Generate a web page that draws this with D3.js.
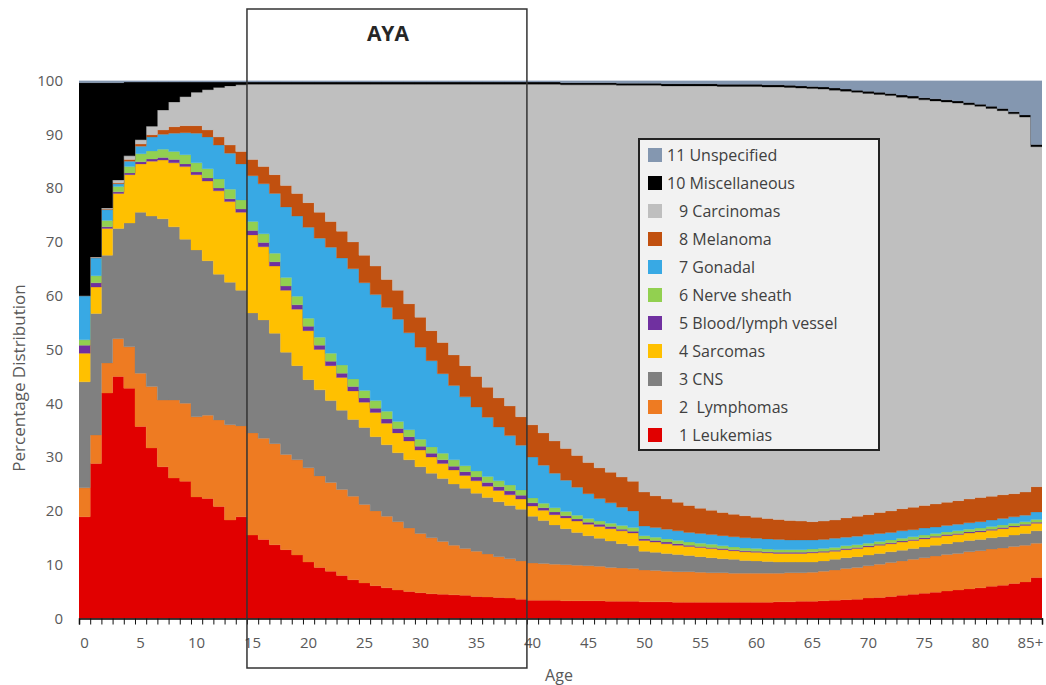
<!DOCTYPE html>
<html>
<head>
<meta charset="utf-8">
<script src="https://cdn.jsdelivr.net/npm/d3@7"></script>
<style>
  body { margin: 0; background: #fff; }
  text { font-family: 'Open Sans', sans-serif; }
</style>
</head>
<body>
<svg width="1046" height="685"></svg>
<script>
// ages 0..84 and the open "85+" group
const ages = d3.range(0, 86)
const tickAges = [0, 5, 10, 15, 20, 25, 30, 35, 40, 45, 50, 55, 60, 65, 70, 75, 80, 85]
const tickLabels = ['0', '5', '10', '15', '20', '25', '30', '35', '40', '45', '50', '55', '60', '65', '70', '75', '80', '85+']
const yTicks = [0, 10, 20, 30, 40, 50, 60, 70, 80, 90, 100]

// percentage of all cancers per age, one array per group
const leukemias = [18.9, 28.8, 41.9, 45, 42.8, 35.7, 31.7, 28.2, 26.1, 25.5, 22.6, 22.3, 20.8, 18.3, 18.9,
  15.5, 14.7, 13.7, 12.8, 11.8, 10.5, 9.5, 8.8, 8, 7.2, 6.6, 6.1, 5.7, 5.3, 5, 4.8, 4.6, 4.5, 4.4, 4.3, 4.1, 4, 3.9, 3.8, 3.6,
  3.4, 3.4, 3.4, 3.3, 3.3, 3.3, 3.3, 3.2, 3.2, 3.2, 3.1, 3.1, 3.1, 3, 3, 3, 3, 3, 3, 3, 3, 3, 3.1, 3.1, 3.2, 3.2, 3.3, 3.4, 3.5, 3.6,
  3.8, 3.9, 4.1, 4.3, 4.5, 4.7, 4.9, 5.1, 5.3, 5.5, 5.7, 6, 6.2, 6.5, 6.8, 7.6]
const lymphomas = [5.4, 5.3, 5.6, 7, 7.7, 9.9, 11.4, 12.4, 14.5, 14.5, 14.9, 15.5, 16.1, 17.7, 16.9,
  19, 18.8, 18.8, 17.7, 17.7, 17.5, 17, 16.5, 16, 15.5, 14.6, 13.9, 13.3, 12.7, 11.8, 11, 10.4, 9.8, 9.2, 8.7, 8.4, 8, 7.6, 7.3, 7.1,
  6.9, 6.8, 6.7, 6.7, 6.6, 6.5, 6.4, 6.3, 6.2, 6.1, 5.9, 5.8, 5.7, 5.7, 5.7, 5.6, 5.5, 5.5, 5.4, 5.4, 5.4, 5.4, 5.3, 5.4, 5.3, 5.4,
  5.5, 5.6, 5.8, 5.9, 6, 6.2, 6.3, 6.4, 6.5, 6.6, 6.7, 6.8, 6.8, 6.9, 6.9, 6.9, 6.9, 6.9, 6.8, 6.4]
const cns = [19.7, 22.6, 20, 20.5, 23, 29.9, 31.7, 33.7, 32.2, 30.5, 31, 28.7, 27.1, 26.5, 25.2,
  22.3, 22, 20.5, 19, 17.5, 16.4, 16, 15.2, 14.7, 14.3, 14.3, 13.8, 13.3, 12.8, 12.7, 12.4, 12, 11.7, 11.4, 11.2, 10.8, 10.5, 10.2, 9.9, 9.6,
  8.7, 8, 7.3, 6.7, 6.1, 5.6, 5.2, 4.9, 4.5, 4.2, 3.5, 3.4, 3.3, 3.2, 3, 2.9, 2.8, 2.6, 2.6, 2.4, 2.3, 2.2, 2.1, 2, 2, 1.9,
  1.9, 2, 2, 2, 2, 2, 2, 2, 2, 2, 2, 2, 2.1, 2.1, 2.1, 2.1, 2.1, 2.1, 2.2, 2.3]
const sarcomas = [5.3, 4.9, 5, 6.5, 9, 9, 10.2, 10.9, 11.9, 13.5, 14, 14.8, 15.5, 15, 14.5,
  14.5, 13.6, 12.5, 11.5, 10.5, 9.1, 7.5, 6.5, 6.1, 5.3, 4.7, 4.5, 4, 3.7, 3.5, 3.1, 3, 2.8, 2.6, 2.4, 2.3, 2.1, 2.1, 2, 1.9,
  1.9, 1.9, 1.9, 2, 2.1, 2.1, 2.2, 2.3, 2.4, 2.4, 2, 1.9, 1.8, 1.7, 1.7, 1.7, 1.7, 1.7, 1.6, 1.6, 1.6, 1.6, 1.6, 1.6, 1.6, 1.7,
  1.6, 1.5, 1.5, 1.5, 1.5, 1.5, 1.5, 1.5, 1.5, 1.5, 1.5, 1.5, 1.4, 1.4, 1.4, 1.4, 1.5, 1.5, 1.5, 1.4]
const bloodVessel = [1.5, 0.8, 0.3, 0.3, 0.3, 0.4, 0.4, 0.5, 0.6, 0.5, 0.5, 0.6, 0.5, 0.5, 0.6,
  0.8, 0.8, 0.8, 0.8, 0.8, 0.8, 0.8, 0.8, 0.8, 0.8, 0.8, 0.8, 0.8, 0.8, 0.8, 0.7, 0.7, 0.7, 0.7, 0.7, 0.7, 0.7, 0.7, 0.7, 0.7,
  0.6, 0.5, 0.5, 0.4, 0.4, 0.4, 0.4, 0.4, 0.3, 0.3, 0.3, 0.3, 0.3, 0.3, 0.2, 0.2, 0.2, 0.2, 0.2, 0.2, 0.2, 0.2, 0.2, 0.2, 0.2, 0.2,
  0.2, 0.2, 0.2, 0.2, 0.2, 0.2, 0.2, 0.2, 0.2, 0.2, 0.2, 0.2, 0.2, 0.2, 0.2, 0.2, 0.2, 0.2, 0.2, 0.2]
const nerveSheath = [1, 1.3, 1.2, 1, 1.2, 1.5, 1.5, 1.5, 1.5, 1.7, 1.7, 1.7, 1.7, 1.8, 1.7,
  1.7, 1.6, 1.6, 1.6, 1.6, 1.5, 1.5, 1.5, 1.5, 1.4, 1.4, 1.4, 1.4, 1.3, 1.3, 1.3, 1.2, 1.2, 1.2, 1.1, 1.1, 1.1, 1.1, 1.1, 1,
  0.9, 0.8, 0.8, 0.8, 0.7, 0.7, 0.6, 0.6, 0.7, 0.7, 0.6, 0.6, 0.6, 0.6, 0.6, 0.6, 0.6, 0.5, 0.5, 0.5, 0.5, 0.5, 0.5, 0.5, 0.5, 0.5,
  0.5, 0.5, 0.5, 0.5, 0.5, 0.5, 0.5, 0.5, 0.5, 0.5, 0.5, 0.5, 0.5, 0.5, 0.5, 0.5, 0.5, 0.5, 0.5, 0.5]
const gonadal = [8.2, 3.3, 2, 0.5, 1, 1.4, 2.6, 2.8, 3.4, 4.1, 5.5, 5.9, 6.3, 6.7, 6.7,
  8.5, 9.3, 11.1, 13.1, 14.9, 16.9, 18.4, 19.7, 19.9, 20.5, 20, 19.7, 19.3, 19, 18, 17.1, 16, 14.8, 13.8, 12.8, 11.9, 11, 10, 9.2, 8.3,
  7.6, 7.1, 6.4, 5.8, 5.2, 4.6, 4.2, 3.8, 3.4, 3.1, 1.8, 1.8, 1.8, 1.8, 1.8, 1.8, 1.8, 1.9, 1.9, 1.9, 1.9, 1.9, 1.9, 1.8, 1.8, 1.7,
  1.7, 1.7, 1.6, 1.6, 1.6, 1.5, 1.4, 1.4, 1.3, 1.3, 1.2, 1.2, 1.2, 1.2, 1.2, 1.2, 1.2, 1.2, 1.2, 1.4]
const melanoma = [0, 0.1, 0.1, 0.2, 0.3, 0.4, 0.4, 0.8, 1.2, 1.3, 1.4, 1.3, 1.5, 1.5, 2.3,
  3, 3.2, 3.5, 4, 4.2, 4.6, 4.8, 4.8, 5, 5, 5.1, 5.3, 5.2, 5.4, 5.4, 5.6, 5.6, 5.8, 5.7, 5.8, 5.7, 5.6, 5.4, 5.5, 5.3,
  6, 6, 6, 5.9, 5.9, 5.8, 5.7, 5.7, 5.6, 5.5, 6.3, 5.9, 5.6, 5.3, 5, 4.7, 4.5, 4.3, 4.2, 4.1, 3.9, 3.8, 3.7, 3.6, 3.5, 3.4,
  3.4, 3.4, 3.6, 3.7, 3.7, 3.9, 4, 4.1, 4.2, 4.2, 4.3, 4.3, 4.4, 4.4, 4.5, 4.4, 4.4, 4.3, 4.3, 4.7]
const carcinomas = [0, 0.1, 0.2, 0.5, 0.7, 0.8, 1.6, 3.7, 4.6, 5.4, 6.2, 7.5, 9.2, 11, 12.4,
  14, 15.3, 16.8, 18.8, 20.3, 22, 23.8, 25.5, 27.3, 29.3, 31.8, 33.8, 36.3, 38.3, 40.8, 43.3, 45.8, 48, 50.3, 52.3, 54.3, 56.3, 58.3, 59.8, 61.8,
  63.3, 64.8, 66.3, 67.6, 68.9, 70.2, 71.2, 72, 72.8, 73.6, 75.6, 76.3, 76.8, 77.4, 78, 78.5, 78.9, 79.2, 79.5, 79.8, 80.1, 80.2, 80.4, 80.5, 80.5, 80.5,
  80.3, 79.9, 79.3, 78.8, 78.3, 77.7, 77.2, 76.5, 76, 75.4, 74.9, 74.4, 73.9, 73.3, 72.7, 72.1, 71.4, 70.6, 69.7, 63.2]
const miscellaneous = [39.6, 32.4, 23.3, 18.1, 13.7, 10.7, 8.2, 5.2, 3.7, 2.7, 1.9, 1.4, 1, 0.7, 0.5,
  0.4, 0.4, 0.4, 0.4, 0.4, 0.4, 0.4, 0.4, 0.4, 0.4, 0.4, 0.4, 0.4, 0.4, 0.4, 0.4, 0.4, 0.4, 0.4, 0.4, 0.4, 0.4, 0.4, 0.4, 0.4,
  0.4, 0.4, 0.4, 0.4, 0.4, 0.4, 0.4, 0.4, 0.4, 0.4, 0.4, 0.4, 0.4, 0.4, 0.4, 0.4, 0.4, 0.4, 0.4, 0.4, 0.4, 0.4, 0.4, 0.4, 0.4, 0.4,
  0.4, 0.4, 0.4, 0.4, 0.4, 0.4, 0.4, 0.4, 0.4, 0.4, 0.4, 0.4, 0.4, 0.4, 0.4, 0.4, 0.4, 0.4, 0.4, 0.4]
const unspecified = [0.4, 0.4, 0.4, 0.4, 0.3, 0.3, 0.3, 0.3, 0.3, 0.3, 0.3, 0.3, 0.3, 0.3, 0.3,
  0.3, 0.3, 0.3, 0.3, 0.3, 0.3, 0.3, 0.3, 0.3, 0.3, 0.3, 0.3, 0.3, 0.3, 0.3, 0.3, 0.3, 0.3, 0.3, 0.3, 0.3, 0.3, 0.3, 0.3, 0.3,
  0.3, 0.3, 0.3, 0.4, 0.4, 0.4, 0.4, 0.4, 0.5, 0.5, 0.5, 0.5, 0.6, 0.6, 0.6, 0.6, 0.6, 0.7, 0.7, 0.7, 0.7, 0.8, 0.8, 0.9, 1, 1.1,
  1.2, 1.4, 1.6, 1.8, 2, 2.2, 2.4, 2.7, 2.9, 3.2, 3.4, 3.6, 3.8, 4.1, 4.4, 4.8, 5.2, 5.8, 6.4, 11.9]

const seriesNames = ['1 Leukemias', '2  Lymphomas', '3 CNS', '4 Sarcomas', '5 Blood/lymph vessel', '6 Nerve sheath',
  '7 Gonadal', '8 Melanoma', '9 Carcinomas', '10 Miscellaneous', '11 Unspecified']
const seriesColors = ['#e10000', '#ee7b22', '#808080', '#ffc000', '#7030a0', '#92d050',
  '#38a9e4', '#c1500f', '#bfbfbf', '#000000', '#8497b0']
const seriesValues = [leukemias, lymphomas, cns, sarcomas, bloodVessel, nerveSheath,
  gonadal, melanoma, carcinomas, miscellaneous, unspecified]

function main() {
  let svg = d3.select('svg')
  let left = 79, right = 1042, top = 80.5, bottom = 618.5

  let xScale = d3.scaleBand().domain(ages).range([left, right]).padding(0)
  let xEdge = d3.scaleLinear().domain([0, ages.length]).range([left, right])
  let yScale = d3.scaleLinear().domain([0, 100]).range([bottom, top])

  // one row per age for d3.stack
  let rows = ages.map((a, i) => {
    let r = { age: a }
    seriesNames.forEach((n, j) => { r[n] = seriesValues[j][i] })
    return r
  })
  let layers = d3.stack().keys(seriesNames)(rows)

  svg.append('clipPath').attr('id', 'plot')
    .append('rect')
    .attr('x', left).attr('y', top)
    .attr('width', right - left).attr('height', bottom - top)

  // stepped areas, each age is a full-width column
  let area = d3.area()
    .curve(d3.curveStepAfter)
    .x(d => xEdge(d.i))
    .y0(d => yScale(d.y0))
    .y1(d => yScale(d.y1))

  svg.append('g')
    .attr('clip-path', 'url(#plot)')
    .selectAll('path')
    .data(layers)
    .enter()
    .append('path')
    .attr('fill', (d, j) => seriesColors[j])
    .attr('stroke', (d, j) => seriesColors[j])
    .attr('stroke-width', 0.3)
    .attr('d', layer => {
      let pts = layer.map((d, i) => ({ i: i, y0: d[0], y1: d[1] }))
      let last = pts[pts.length - 1]
      pts.push({ i: ages.length, y0: last.y0, y1: last.y1 })
      return area(pts)
    })

  // y axis labels only
  let yAxis = svg.append('g')
    .attr('transform', 'translate(' + left + ',0)')
    .call(d3.axisLeft(yScale).tickValues(yTicks).tickSize(0).tickPadding(16))
  yAxis.select('.domain').remove()
  yAxis.selectAll('text')
    .attr('fill', '#595959')
    .style('font-size', '15px')
    .style('font-family', "'Open Sans', sans-serif")

  // x axis: ticks on the column edges, labels in the column centres
  let xTicks = svg.append('g')
    .attr('transform', 'translate(0,' + bottom + ')')
    .call(d3.axisBottom(xEdge).tickValues(d3.range(0, ages.length + 1)).tickSize(6).tickFormat(''))
  xTicks.select('.domain').attr('stroke', '#000').attr('stroke-width', 1.5)
  xTicks.selectAll('line').attr('stroke', '#111')

  let xLabels = svg.append('g')
    .attr('transform', 'translate(0,' + bottom + ')')
    .call(d3.axisBottom(xScale).tickValues(tickAges).tickSize(0).tickPadding(19)
      .tickFormat((d, i) => tickLabels[i]))
  xLabels.select('.domain').remove()
  xLabels.selectAll('text')
    .attr('fill', '#595959')
    .style('font-size', '15px')
    .style('font-family', "'Open Sans', sans-serif")
  // keep "85+" inside the page
  xLabels.selectAll('text').filter(d => d === 85).attr('dx', -6)

  svg.append('text')
    .attr('x', 559).attr('y', 681)
    .attr('text-anchor', 'middle')
    .attr('fill', '#595959')
    .style('font-size', '16px')
    .text('Age')

  svg.append('text')
    .attr('transform', 'translate(25,378) rotate(-90)')
    .attr('text-anchor', 'middle')
    .attr('fill', '#595959')
    .style('font-size', '17px')
    .text('Percentage Distribution')

  // AYA box, ages 15 to 39
  svg.append('rect')
    .attr('x', xEdge(15)).attr('y', 9)
    .attr('width', xEdge(40) - xEdge(15)).attr('height', 659)
    .attr('fill', 'none')
    .attr('stroke', '#333')
    .attr('stroke-width', 1.5)

  svg.append('text')
    .attr('x', (xEdge(15) + xEdge(40)) / 2 + 1).attr('y', 41)
    .attr('text-anchor', 'middle')
    .attr('fill', '#262626')
    .style('font-size', '21px')
    .style('font-weight', 'bold')
    .text('AYA')

  // legend, top entry is group 11
  let legend = svg.append('g')
  legend.append('rect')
    .attr('x', 639).attr('y', 139)
    .attr('width', 240).attr('height', 311)
    .attr('fill', '#f2f2f2')
    .attr('stroke', '#222')
    .attr('stroke-width', 2)

  let items = seriesNames.map((n, j) => ({ name: n, color: seriesColors[j] })).reverse()
  let entry = legend.selectAll('.entry')
    .data(items)
    .enter()
    .append('g')
    .attr('class', 'entry')
    .attr('transform', (d, k) => 'translate(0,' + (155 + k * 28) + ')')

  entry.append('rect')
    .attr('x', 648).attr('y', -7)
    .attr('width', 14).attr('height', 14)
    .attr('fill', d => d.color)

  entry.append('text')
    .attr('x', d => (/^\d\d/.test(d.name) ? 667 : 679))
    .attr('y', 0)
    .attr('dy', '0.35em')
    .attr('fill', '#404040')
    .style('font-size', '16px')
    .style('white-space', 'pre')
    .text(d => d.name)
}

main()
</script>
</body>
</html>
